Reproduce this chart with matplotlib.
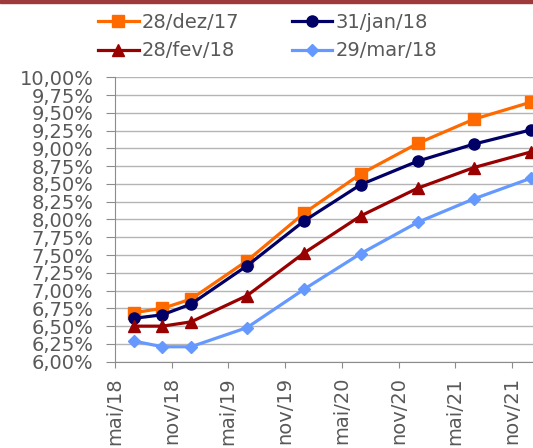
import numpy as np
import pandas as pd
import matplotlib
matplotlib.use("Agg")
import matplotlib.pyplot as plt
import matplotlib.dates as mdates
from matplotlib.ticker import FuncFormatter

# vertices of the curve (DI futures maturities)
vertices = pd.to_datetime([
    "2018-07-01", "2018-10-01", "2019-01-01", "2019-07-01", "2020-01-01",
    "2020-07-01", "2021-01-01", "2021-07-01", "2022-01-01",
])

dez17 = [6.69, 6.75, 6.88, 7.42, 8.09, 8.64, 9.07, 9.41, 9.65]
jan18 = [6.61, 6.66, 6.81, 7.35, 7.98, 8.49, 8.82, 9.06, 9.26]
fev18 = [6.50, 6.50, 6.56, 6.93, 7.53, 8.05, 8.44, 8.73, 8.95]
mar18 = [6.29, 6.21, 6.21, 6.48, 7.02, 7.52, 7.96, 8.29, 8.58]

series_labels = ["28/dez/17", "31/jan/18", "28/fev/18", "29/mar/18"]
month_names = ["jan", "fev", "mar", "abr", "mai", "jun",
               "jul", "ago", "set", "out", "nov", "dez"]

grey_txt = "#595959"

fig = plt.figure(figsize=(5.33, 4.48), dpi=100)
ax = fig.add_axes([115 / 533, 1 - 361.7 / 448, 1 - 115 / 533, (361.7 - 77.3) / 448])

# dark red band at the very top of the slide
fig.patches.append(plt.Rectangle((0, 1 - 3 / 448), 1, 3 / 448,
                                 transform=fig.transFigure, color="#9E3A3A"))

styles = [
    dict(color="#FF6A00", marker="s", markersize=8),
    dict(color="#000066", marker="o", markersize=8),
    dict(color="#990000", marker="^", markersize=8),
    dict(color="#6699FF", marker="D", markersize=6),
]

lines = []
for vals, lab, st in zip([dez17, jan18, fev18, mar18], series_labels, styles):
    ln, = ax.plot(vertices, vals, label=lab, linewidth=2.3, **st)
    lines.append(ln)

ax.set_ylim(6.0, 10.0)
ax.set_yticks(np.arange(6.0, 10.01, 0.25))
ax.yaxis.set_major_formatter(FuncFormatter(lambda v, p: f"{v:.2f}%".replace(".", ",")))

ax.set_xlim(pd.Timestamp("2018-05-01"), pd.Timestamp("2022-01-08"))
ax.xaxis.set_major_locator(mdates.MonthLocator(bymonth=[5, 11]))
ax.xaxis.set_major_formatter(FuncFormatter(
    lambda v, p: f"{month_names[mdates.num2date(v).month - 1]}/{mdates.num2date(v).year % 100:02d}"))

ax.grid(axis="y", color="#B4B4B4", linewidth=1)
ax.set_axisbelow(True)
for s in ["top", "right"]:
    ax.spines[s].set_visible(False)
for s in ["left", "bottom"]:
    ax.spines[s].set_color("#8C8C8C")
ax.tick_params(axis="y", colors="#8C8C8C", labelcolor=grey_txt, labelsize=14,
               length=6.5, pad=9)
ax.tick_params(axis="x", colors="#8C8C8C", labelcolor=grey_txt, labelsize=14,
               length=4, pad=7, labelrotation=90)
for t in ax.get_xticklabels():
    t.set_va("top")

# legend filled column-wise, so order handles to read row by row
order = [0, 2, 1, 3]
fig.legend([lines[i] for i in order], [series_labels[i] for i in order],
           loc="upper left", bbox_to_anchor=(90 / 533, 1 - 5 / 448), ncol=2,
           frameon=False, fontsize=14, labelcolor=grey_txt, handlelength=2.1,
           handletextpad=0.15, columnspacing=2.7, labelspacing=0.5,
           borderaxespad=0, numpoints=1)

fig.savefig("out.png", dpi=100)
